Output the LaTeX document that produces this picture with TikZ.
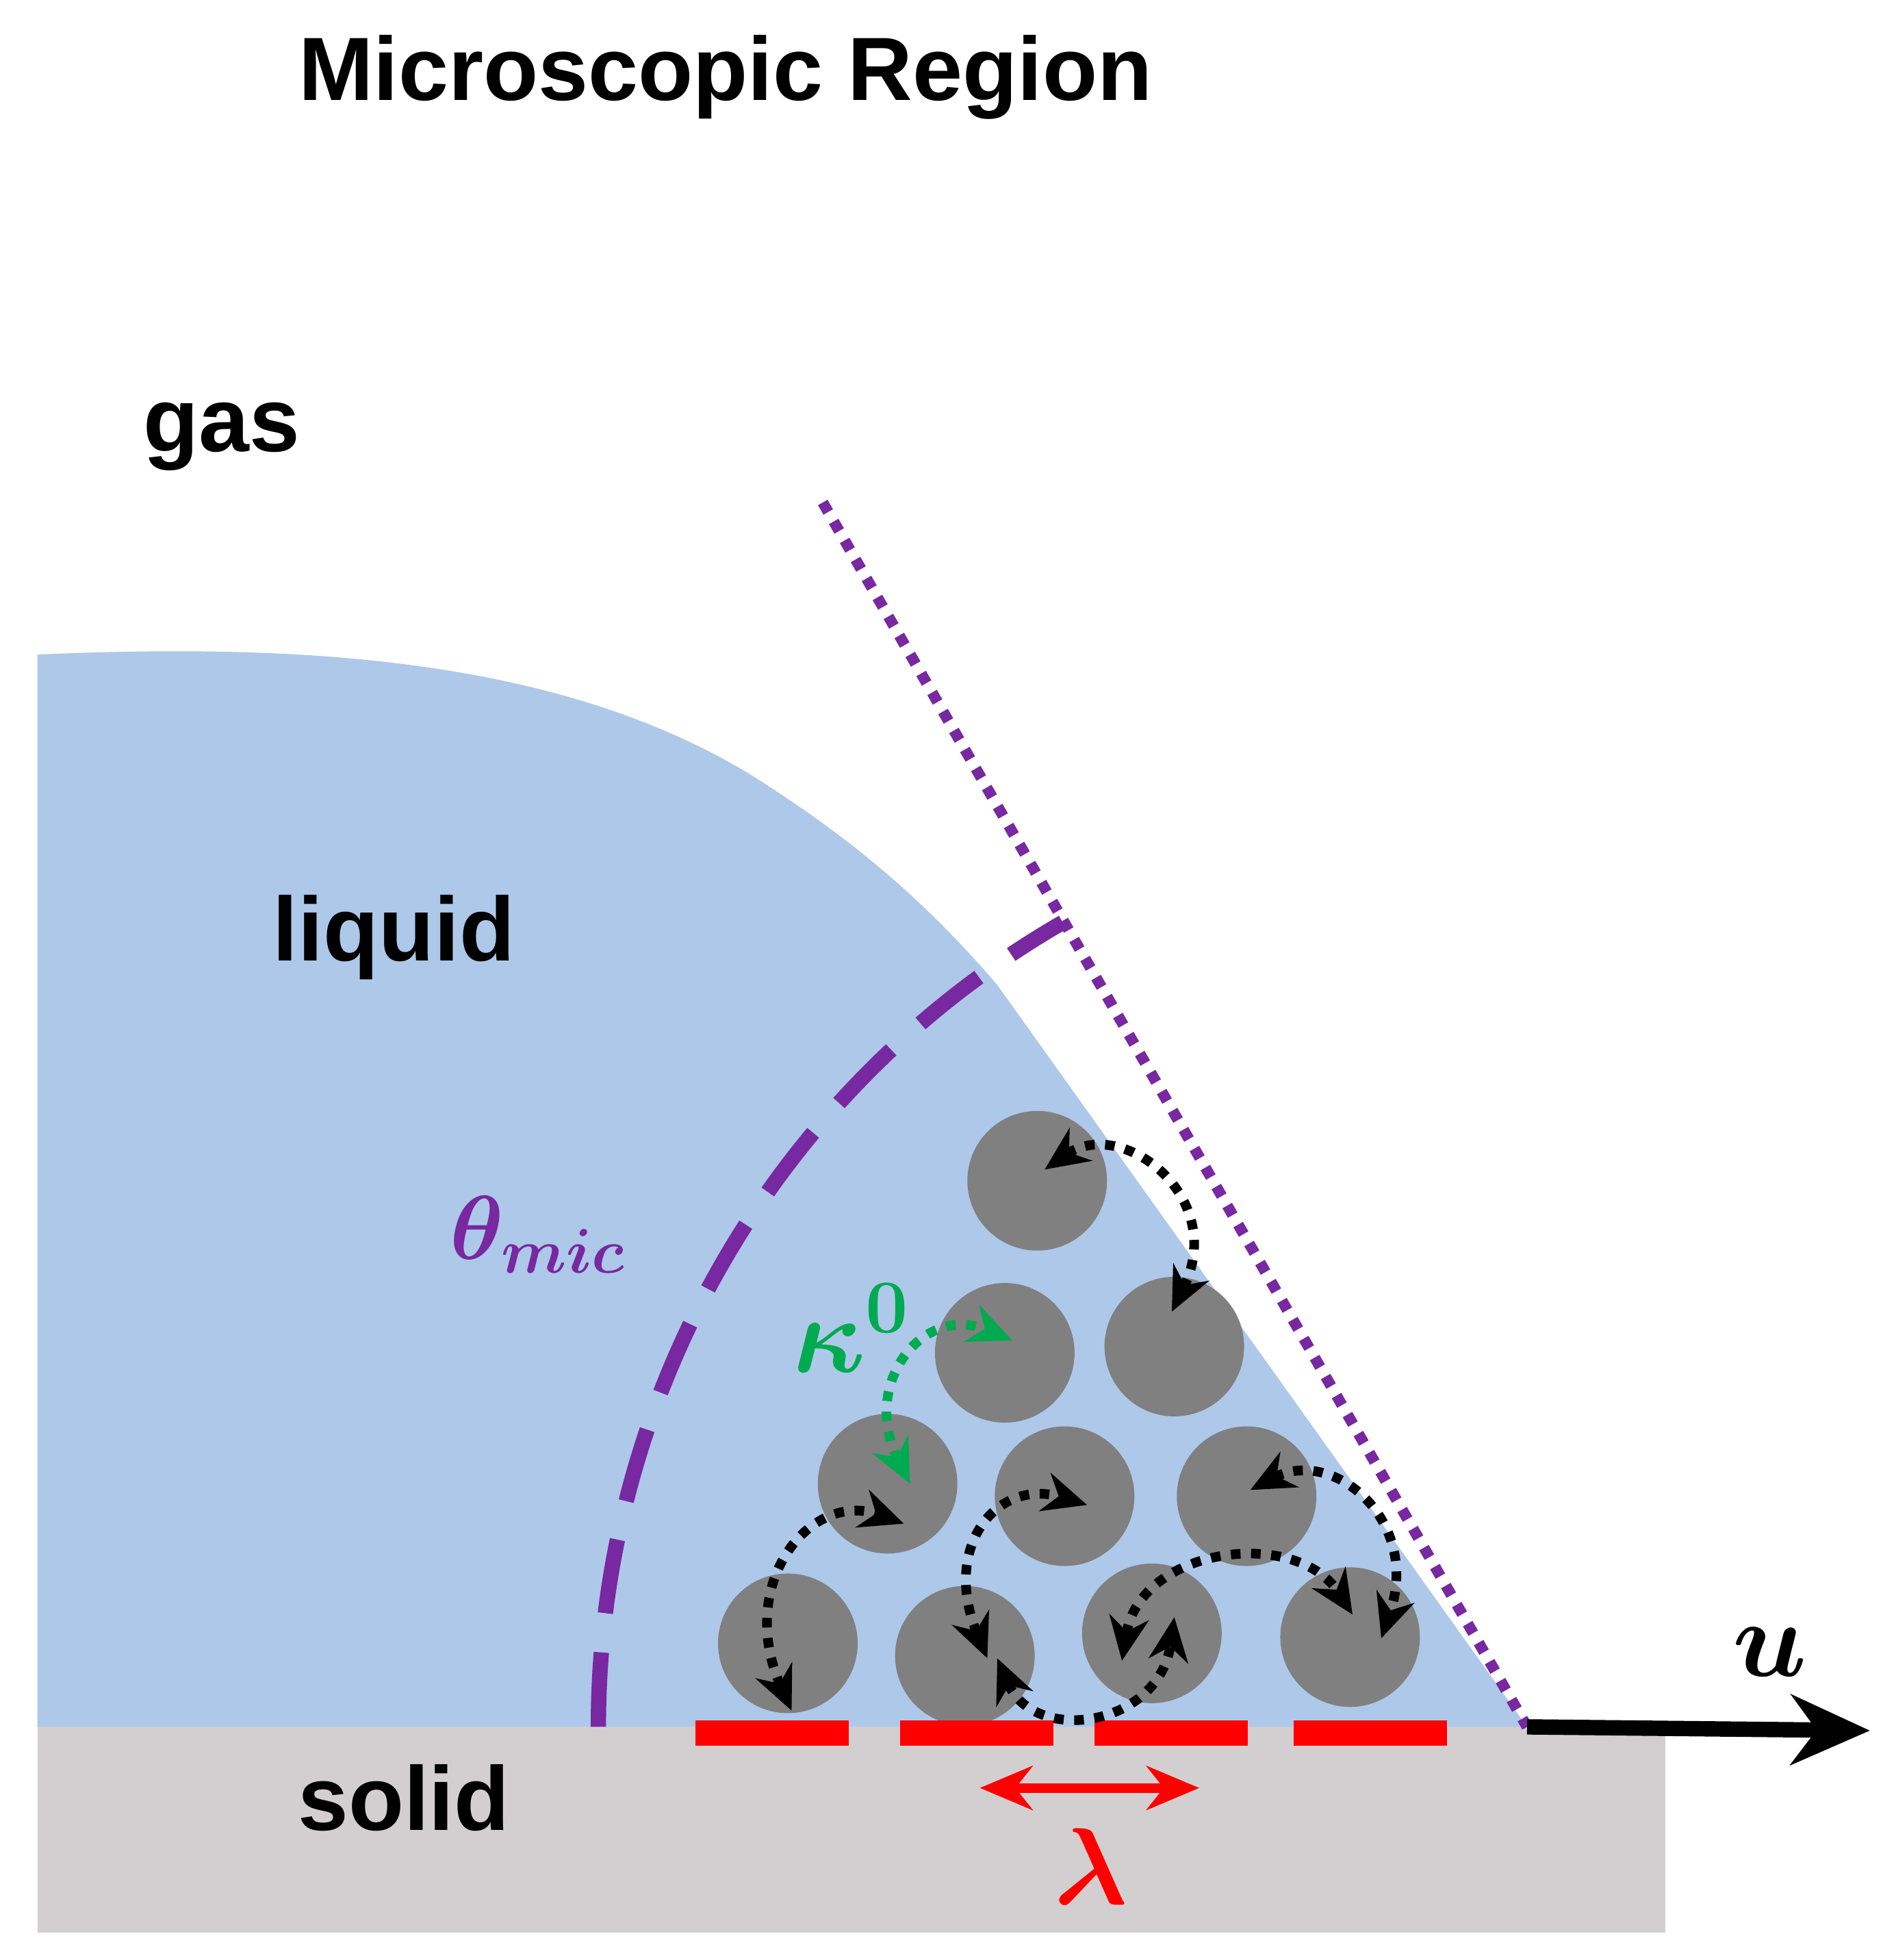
\documentclass[tikz,border=0pt]{standalone}
\usepackage{fontspec}
\setmainfont{Liberation Sans}
\usepackage{amsmath,bm}
\usetikzlibrary{arrows.meta}
\definecolor{liq}{RGB}{174,200,233}
\definecolor{sol}{RGB}{211,207,208}
\definecolor{part}{RGB}{128,128,128}
\definecolor{purp}{RGB}{120,40,160}
\definecolor{grn}{RGB}{0,170,80}
\newcommand{\mthfont}{\fontsize{26}{30}\selectfont}
\tikzset{
 lbl/.style={font=\fontsize{20.7}{24}\selectfont\bfseries, inner sep=0},
 mlbl/.style={font=\mthfont, inner sep=0},
 particle/.style={fill=part, draw=none},
 hop/.style={line width=2.2pt, dash pattern=on 2.2pt off 2.4pt, {Stealth[length=10pt,width=9pt]}-{Stealth[length=10pt,width=9pt]}},
 bar/.style={fill=red, draw=none}
}
\begin{document}
\begin{tikzpicture}[x=0.01cm,y=-0.01cm]
\useasboundingbox (0,0) rectangle (1510,1572);
\fill[sol] (30,1385) rectangle (1336,1550);
\fill[liq] (30,525) .. controls (250,515) and (450,530) .. (600,620)
  .. controls (680,670) and (740,720) .. (800,790) -- (1225,1385) -- (30,1385) -- cycle;
\coordinate (cp) at (1225,1385);
\coordinate (top) at (660,403);
\draw[purp, line width=2.5pt, dash pattern=on 2.5pt off 2.5pt] (top) -- (cp);
\draw[purp, line width=3.5pt, dash pattern=on 17pt off 9pt] (480,1385) arc[start angle=180, end angle=240, radius=745];
\node[lbl, font=\fontsize{20.5}{24}\selectfont\bfseries] (title) at (582,62) {Microscopic Region};
\node[lbl] (gas) at (178,350) {gas};
\node[lbl] (liquid) at (316,752) {liquid};
\node[lbl] (solid) at (324,1442) {solid};
\node[mlbl, text=purp, font=\fontsize{22}{26}\selectfont] (th) at (432,990) {$\bm{\theta_{mic}}$};
\node[mlbl, text=grn] (ka) at (683,1065) {$\bm{\kappa^{0}}$};
\node[mlbl] (uu) at (1420,1325) {$\bm{u}$};
\node[mlbl, text=red] (lam) at (875,1497) {$\bm{\lambda}$};
\foreach \x/\y in {832/947,942/1080,806/1085,712/1190,854/1200,1000/1200,632/1318,774/1328,924/1310,1083/1313}
  \fill[particle] (\x,\y) circle[radius=56];
\foreach \a in {558,722,878,1038}
  \fill[bar] (\a,1380) rectangle ++(123,20);
\coordinate (la) at (786,1434); \coordinate (lb) at (962,1434);
\draw[red, line width=2.2pt, {Stealth[length=12pt,width=10pt]}-{Stealth[length=12pt,width=10pt]}] (la) -- (lb);
\coordinate (ue) at (1500,1388);
\draw[line width=3.5pt, -{Stealth[length=18pt,width=16pt]}] (cp) -- (ue);
\draw[hop] (838,938) .. controls (900,895) and (985,960) .. (940,1052);
\draw[hop, grn] (730,1190) .. controls (690,1110) and (740,1045) .. (812,1075);
\draw[hop] (635,1372) .. controls (590,1270) and (650,1195) .. (725,1222);
\draw[hop] (792,1330) .. controls (755,1240) and (800,1185) .. (872,1207);
\draw[hop] (1003,1195) .. controls (1070,1160) and (1140,1220) .. (1108,1314);
\draw[hop] (900,1332) .. controls (915,1240) and (1040,1225) .. (1085,1295);
\draw[hop] (800,1330) .. controls (830,1400) and (930,1385) .. (942,1297);
\end{tikzpicture}
\end{document}
